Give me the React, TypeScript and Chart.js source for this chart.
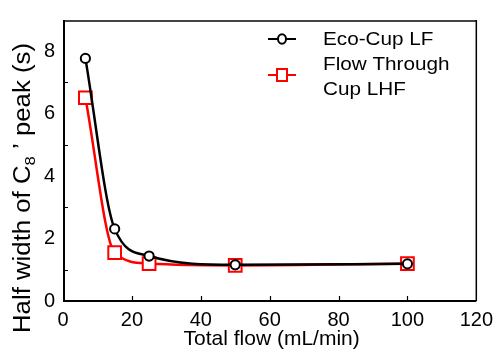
import { useEffect, useRef } from "react";
import { Chart, registerables } from "chart.js";

Chart.register(...registerables);

// ---- data ----
const flow = [6.5, 15, 25, 50, 100];
const ecoCup = [7.77, 2.31, 1.44, 1.16, 1.19];
const flowThrough = [6.51, 1.55, 1.2, 1.14, 1.2];
const xTicks = [0, 20, 40, 60, 80, 100, 120];
const yTicks = [0, 2, 4, 6, 8];
const yMinorTicks = [1, 3, 5, 7];
const innerXTicks = [20, 40, 60, 80, 100];
const legendLabels = [["Eco-Cup LF"], ["Flow Through", "Cup LHF"]];
const xTitle = "Total flow (mL/min)";
const yTitleParts = ["Half width of C", "8", " \u2019 peak (s)"];

const FONT = "Arial, 'Liberation Sans', Helvetica, sans-serif";
const RED = "#ff0000";

const decorPlugin = {
  id: "decor",
  beforeDatasetsDraw(chart: any) {
    const ctx = chart.ctx as CanvasRenderingContext2D;
    const { left, right, top, bottom } = chart.chartArea;
    const xs = chart.scales.x;
    const ys = chart.scales.y;
    ctx.save();
    // frame
    ctx.strokeStyle = "#444";
    ctx.lineWidth = 2;
    ctx.beginPath();
    ctx.moveTo(left, top + 1);
    ctx.lineTo(right, top + 1);
    ctx.stroke();
    ctx.strokeStyle = "#000";
    ctx.lineWidth = 1.5;
    ctx.beginPath();
    ctx.moveTo(right, top);
    ctx.lineTo(right, bottom);
    ctx.stroke();
    ctx.lineWidth = 2;
    ctx.beginPath();
    ctx.moveTo(left + 1, top);
    ctx.lineTo(left + 1, bottom);
    ctx.moveTo(left, bottom);
    ctx.lineTo(right, bottom);
    ctx.stroke();
    // inner ticks
    ctx.lineWidth = 1.2;
    ctx.beginPath();
    for (const v of innerXTicks) {
      const px = Math.round(xs.getPixelForValue(v)) + 0.5;
      ctx.moveTo(px, bottom);
      ctx.lineTo(px, bottom - 5);
    }
    for (const v of yMinorTicks) {
      const py = Math.round(ys.getPixelForValue(v)) + 0.5;
      ctx.moveTo(left, py);
      ctx.lineTo(left + 5, py);
    }
    ctx.stroke();
    ctx.restore();
  },
  afterDraw(chart: any) {
    const ctx = chart.ctx as CanvasRenderingContext2D;
    const { left, right, top, bottom } = chart.chartArea;
    ctx.save();
    ctx.fillStyle = "#000";
    ctx.textBaseline = "alphabetic";

    // x title
    ctx.font = `21px ${FONT}`;
    ctx.textAlign = "center";
    ctx.fillText(xTitle, (left + right) / 2 + 2, 345);

    // y title with subscript, rotated
    const big = `23px ${FONT}`;
    const small = `15px ${FONT}`;
    ctx.font = big;
    const w1 = ctx.measureText(yTitleParts[0]).width;
    const w3 = ctx.measureText(yTitleParts[2]).width;
    ctx.font = small;
    const w2 = ctx.measureText(yTitleParts[1]).width;
    const total = w1 + w2 + w3;
    const targetLen = 290;
    const sx = targetLen / total;
    ctx.translate(30, 188);
    ctx.rotate(-Math.PI / 2);
    ctx.scale(sx, 1);
    ctx.textAlign = "left";
    let cx = -total / 2;
    ctx.font = big;
    ctx.fillText(yTitleParts[0], cx, 0);
    cx += w1;
    ctx.font = small;
    ctx.fillText(yTitleParts[1], cx, 5);
    cx += w2;
    ctx.font = big;
    ctx.fillText(yTitleParts[2], cx, 0);
    ctx.restore();

    // legend
    ctx.save();
    const lx0 = 268, lx1 = 296, lcx = 282;
    // black entry
    ctx.strokeStyle = "#000";
    ctx.lineWidth = 2;
    ctx.beginPath();
    ctx.moveTo(lx0, 39);
    ctx.lineTo(lx1, 39);
    ctx.stroke();
    ctx.fillStyle = "#fff";
    ctx.beginPath();
    ctx.ellipse(lcx, 39, 4, 4.8, 0, 0, Math.PI * 2);
    ctx.fill();
    ctx.stroke();
    // red entry
    ctx.strokeStyle = RED;
    ctx.beginPath();
    ctx.moveTo(lx0, 75);
    ctx.lineTo(lx1, 75);
    ctx.stroke();
    ctx.fillStyle = "#fff";
    ctx.fillRect(lcx - 5, 69, 10, 12);
    ctx.strokeRect(lcx - 5, 69, 10, 12);
    // texts
    ctx.fillStyle = "#000";
    ctx.font = `18px ${FONT}`;
    ctx.textAlign = "left";
    const baselines = [[45], [70, 95]];
    legendLabels.forEach((lines, i) => {
      lines.forEach((t, j) => {
        ctx.save();
        ctx.translate(323, baselines[i][j]);
        ctx.scale(1.15, 1);
        ctx.fillText(t, 0, 0);
        ctx.restore();
      });
    });
    ctx.restore();
  },
};

export default function App() {
  const ref = useRef<HTMLCanvasElement | null>(null);
  useEffect(() => {
    document.body.style.margin = "0";
    const canvas = ref.current!;
    const chart = new Chart(canvas, {
      type: "line",
      data: {
        datasets: [
          {
            label: legendLabels[0].join(" "),
            data: flow.map((x, i) => ({ x, y: ecoCup[i] })),
            borderColor: "#000",
            borderWidth: 2.5,
            cubicInterpolationMode: "monotone",
            pointStyle: "circle",
            pointRadius: 4.6,
            pointBorderWidth: 2,
            pointBackgroundColor: "#fff",
            pointBorderColor: "#000",
            order: 0,
          },
          {
            label: legendLabels[1].join(" "),
            data: flow.map((x, i) => ({ x, y: flowThrough[i] })),
            borderColor: RED,
            borderWidth: 2.5,
            cubicInterpolationMode: "monotone",
            pointStyle: "rect",
            pointRadius: 9,
            pointBorderWidth: 2,
            pointBackgroundColor: "#fff",
            pointBorderColor: RED,
            order: 1,
          },
        ],
      },
      options: {
        responsive: false,
        animation: false,
        events: [],
        layout: { padding: { top: 8, right: 22, left: 0, bottom: 0 } },
        plugins: { legend: { display: false }, tooltip: { enabled: false } },
        scales: {
          x: {
            type: "linear",
            min: 0,
            max: 120,
            grid: { display: false, drawTicks: false },
            border: { display: false },
            afterBuildTicks: (s: any) => {
              s.ticks = xTicks.map((v) => ({ value: v }));
            },
            afterFit: (s: any) => {
              s.height = 51;
            },
            ticks: {
              color: "#000",
              padding: 7,
              maxRotation: 0,
              font: { size: 20, family: FONT },
            },
          },
          y: {
            type: "linear",
            min: 0,
            max: 9,
            grid: { display: false, drawTicks: false },
            border: { display: false },
            afterBuildTicks: (s: any) => {
              s.ticks = yTicks.map((v) => ({ value: v }));
            },
            afterFit: (s: any) => {
              s.width = 63;
            },
            ticks: {
              color: "#000",
              padding: 8,
              font: { size: 20, family: FONT },
            },
          },
        },
      },
      plugins: [decorPlugin],
    });
    return () => chart.destroy();
  }, []);
  return <canvas ref={ref} width={500} height={352} style={{ display: "block" }} />;
}
